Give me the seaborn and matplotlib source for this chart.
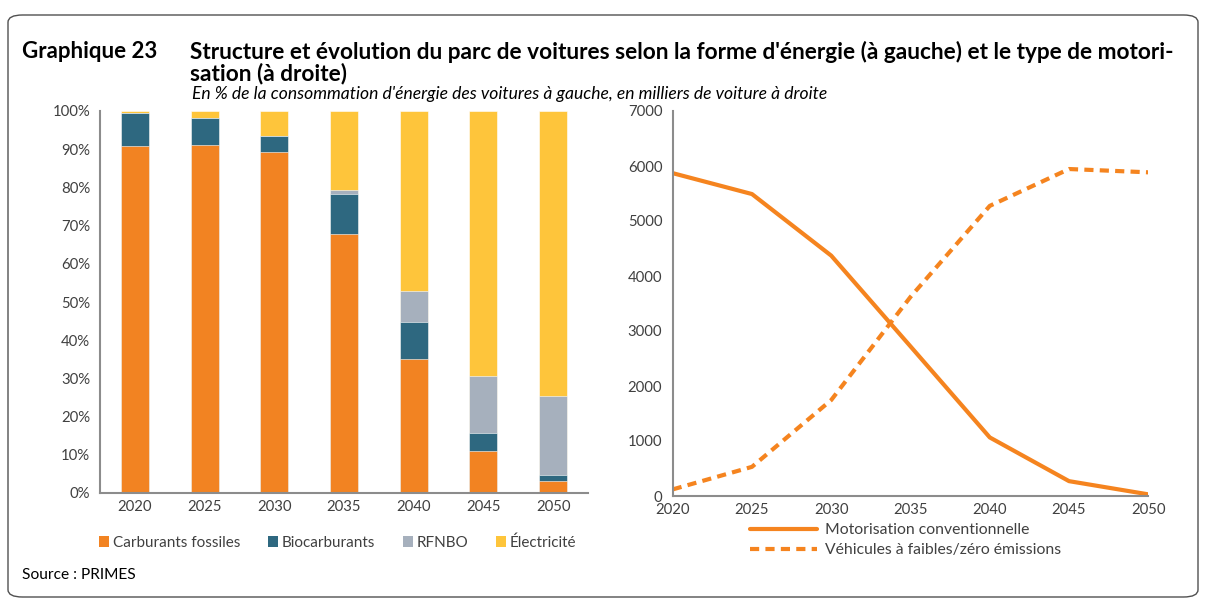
import matplotlib
matplotlib.use("Agg")
import matplotlib.pyplot as plt
import seaborn as sns
import numpy as np
import pandas as pd
from matplotlib.patches import Patch, FancyBboxPatch
from matplotlib.lines import Line2D

# ---------------- data ----------------
years = ["2020", "2025", "2030", "2035", "2040", "2045", "2050"]
fossiles = [90.9, 91.1, 89.2, 67.7, 35.1, 11.1, 3.1]
biocarb = [8.7, 7.1, 4.3, 10.7, 9.7, 4.5, 1.5]
rfnbo = [0.0, 0.0, 0.0, 1.0, 8.1, 14.9, 20.7]
electricite = [0.4, 1.8, 6.5, 20.6, 47.1, 69.5, 74.7]
series_names = ["Carburants fossiles", "Biocarburants", "RFNBO", "Électricité"]
series_colors = ["#F28322", "#2E6880", "#A6B0BD", "#FEC53B"]

line_years = [2020, 2025, 2030, 2035, 2040, 2045, 2050]
conventionnelle = [5870, 5490, 4370, 2720, 1065, 270, 30]
faibles_zero = [120, 530, 1745, 3620, 5275, 5945, 5885]
line_names = ["Motorisation conventionnelle", "Véhicules à faibles/zéro émissions"]

# ---------------- figure ----------------
sns.set_theme(style="white")
plt.rcParams['font.family'] = ['Lato', 'DejaVu Sans']
W, H = 1207, 601
fig = plt.figure(figsize=(W / 100, H / 100), dpi=100)

tick_col = "#404040"
axis_col = "#8C8C8C"
tick_fs = 10.7
leg_fs = 11.0

# frame
frame = FancyBboxPatch((8 / W, 4 / H), 1190 / W, (H - 15 - 4) / H,
                       boxstyle="round,pad=0,rounding_size=0.012",
                       transform=fig.transFigure, fill=False,
                       edgecolor="#505050", linewidth=1.0)
fig.patches.append(frame)

# titles
fig.text(22 / W, 1 - 52 / H, "Graphique 23", fontsize=16, fontweight="bold",
         color="black", va="center", ha="left")
fig.text(190 / W, 1 - 52 / H,
         "Structure et évolution du parc de voitures selon la forme d'énergie (à gauche) et le type de motori-",
         fontsize=16.3, fontweight="bold", color="black", va="center", ha="left")
fig.text(190 / W, 1 - 74 / H, "sation (à droite)", fontsize=16.3, fontweight="bold",
         color="black", va="center", ha="left")
fig.text(192 / W, 1 - 94 / H,
         "En % de la consommation d'énergie des voitures à gauche, en milliers de voiture à droite",
         fontsize=12.6, fontstyle="italic", color="black", va="center", ha="left")
fig.text(22 / W, 1 - 575 / H, "Source : PRIMES", fontsize=11.2, color="black",
         va="center", ha="left")

# ---------------- left: stacked bars ----------------
axL = fig.add_axes([100 / W, 1 - 493 / H, 488 / W, 382 / H])
layers = [fossiles, biocarb, rfnbo, electricite]
cum = np.cumsum(np.array(layers), axis=0)
for i in range(3, -1, -1):
    d = pd.DataFrame({"year": years, "val": cum[i]})
    sns.barplot(data=d, x="year", y="val", color=series_colors[i], width=0.4,
                saturation=1, ax=axL, order=years, edgecolor="white", linewidth=0.4)
axL.set_xlim(-0.5, 6.5)
axL.set_ylim(0, 100)
axL.set_yticks(np.arange(0, 101, 10))
axL.set_yticklabels([f"{v}%" for v in range(0, 101, 10)])
axL.set_xlabel("")
axL.set_ylabel("")
axL.set_xticks(np.arange(7))
axL.set_xticklabels(years)
axL.set_xticks(np.arange(-0.5, 7, 1), minor=True)
axL.tick_params(axis="x", which="major", length=0, labelsize=tick_fs, colors=tick_col, pad=5)
axL.tick_params(axis="x", which="minor", length=4, width=1.5, color=axis_col, direction="out")
axL.tick_params(axis="y", length=4, width=1.5, color=axis_col, labelsize=tick_fs,
                labelcolor=tick_col, direction="out", pad=3)
for s in ["top", "right"]:
    axL.spines[s].set_visible(False)
for s in ["left", "bottom"]:
    axL.spines[s].set_color(axis_col)
    axL.spines[s].set_linewidth(1.5)

handles = [Patch(facecolor=c, edgecolor="none") for c in series_colors]
axL.legend(handles, series_names, loc="center", bbox_to_anchor=(0.487, -0.13),
           ncol=4, frameon=False, fontsize=leg_fs, handlelength=0.65, handleheight=0.65,
           handletextpad=0.25, columnspacing=1.8, labelcolor=tick_col)

# ---------------- right: lines ----------------
axR = fig.add_axes([672.7 / W, 1 - 496 / H, 475.6 / W, 385 / H])
ld = pd.DataFrame({
    "annee": line_years * 2,
    "valeur": conventionnelle + faibles_zero,
    "serie": [line_names[0]] * 7 + [line_names[1]] * 7,
})
sns.lineplot(data=ld, x="annee", y="valeur", style="serie", color="#F5841F",
             linewidth=3, ax=axR, dashes={line_names[0]: "", line_names[1]: (2.2, 1.5)},
             legend=False)
axR.set_xlim(2020, 2050)
axR.set_ylim(0, 7000)
axR.set_xticks(line_years)
axR.set_yticks(np.arange(0, 7001, 1000))
axR.set_xlabel("")
axR.set_ylabel("")
axR.tick_params(axis="both", length=4, width=1.5, color=axis_col, labelsize=tick_fs,
                labelcolor=tick_col, direction="out")
axR.tick_params(axis="x", pad=1)
for s in ["top", "right"]:
    axR.spines[s].set_visible(False)
for s in ["left", "bottom"]:
    axR.spines[s].set_color(axis_col)
    axR.spines[s].set_linewidth(1.5)

lh = [Line2D([0], [0], color="#F5841F", lw=3),
      Line2D([0], [0], color="#F5841F", lw=3, dashes=(2.2, 1.5))]
axR.legend(lh, line_names, loc="upper left", bbox_to_anchor=(0.145, -0.05),
           frameon=False, fontsize=11.3, handlelength=4.3, handletextpad=0.5,
           labelspacing=0.38, labelcolor=tick_col, borderpad=0)

fig.savefig("out.png", dpi=100)
